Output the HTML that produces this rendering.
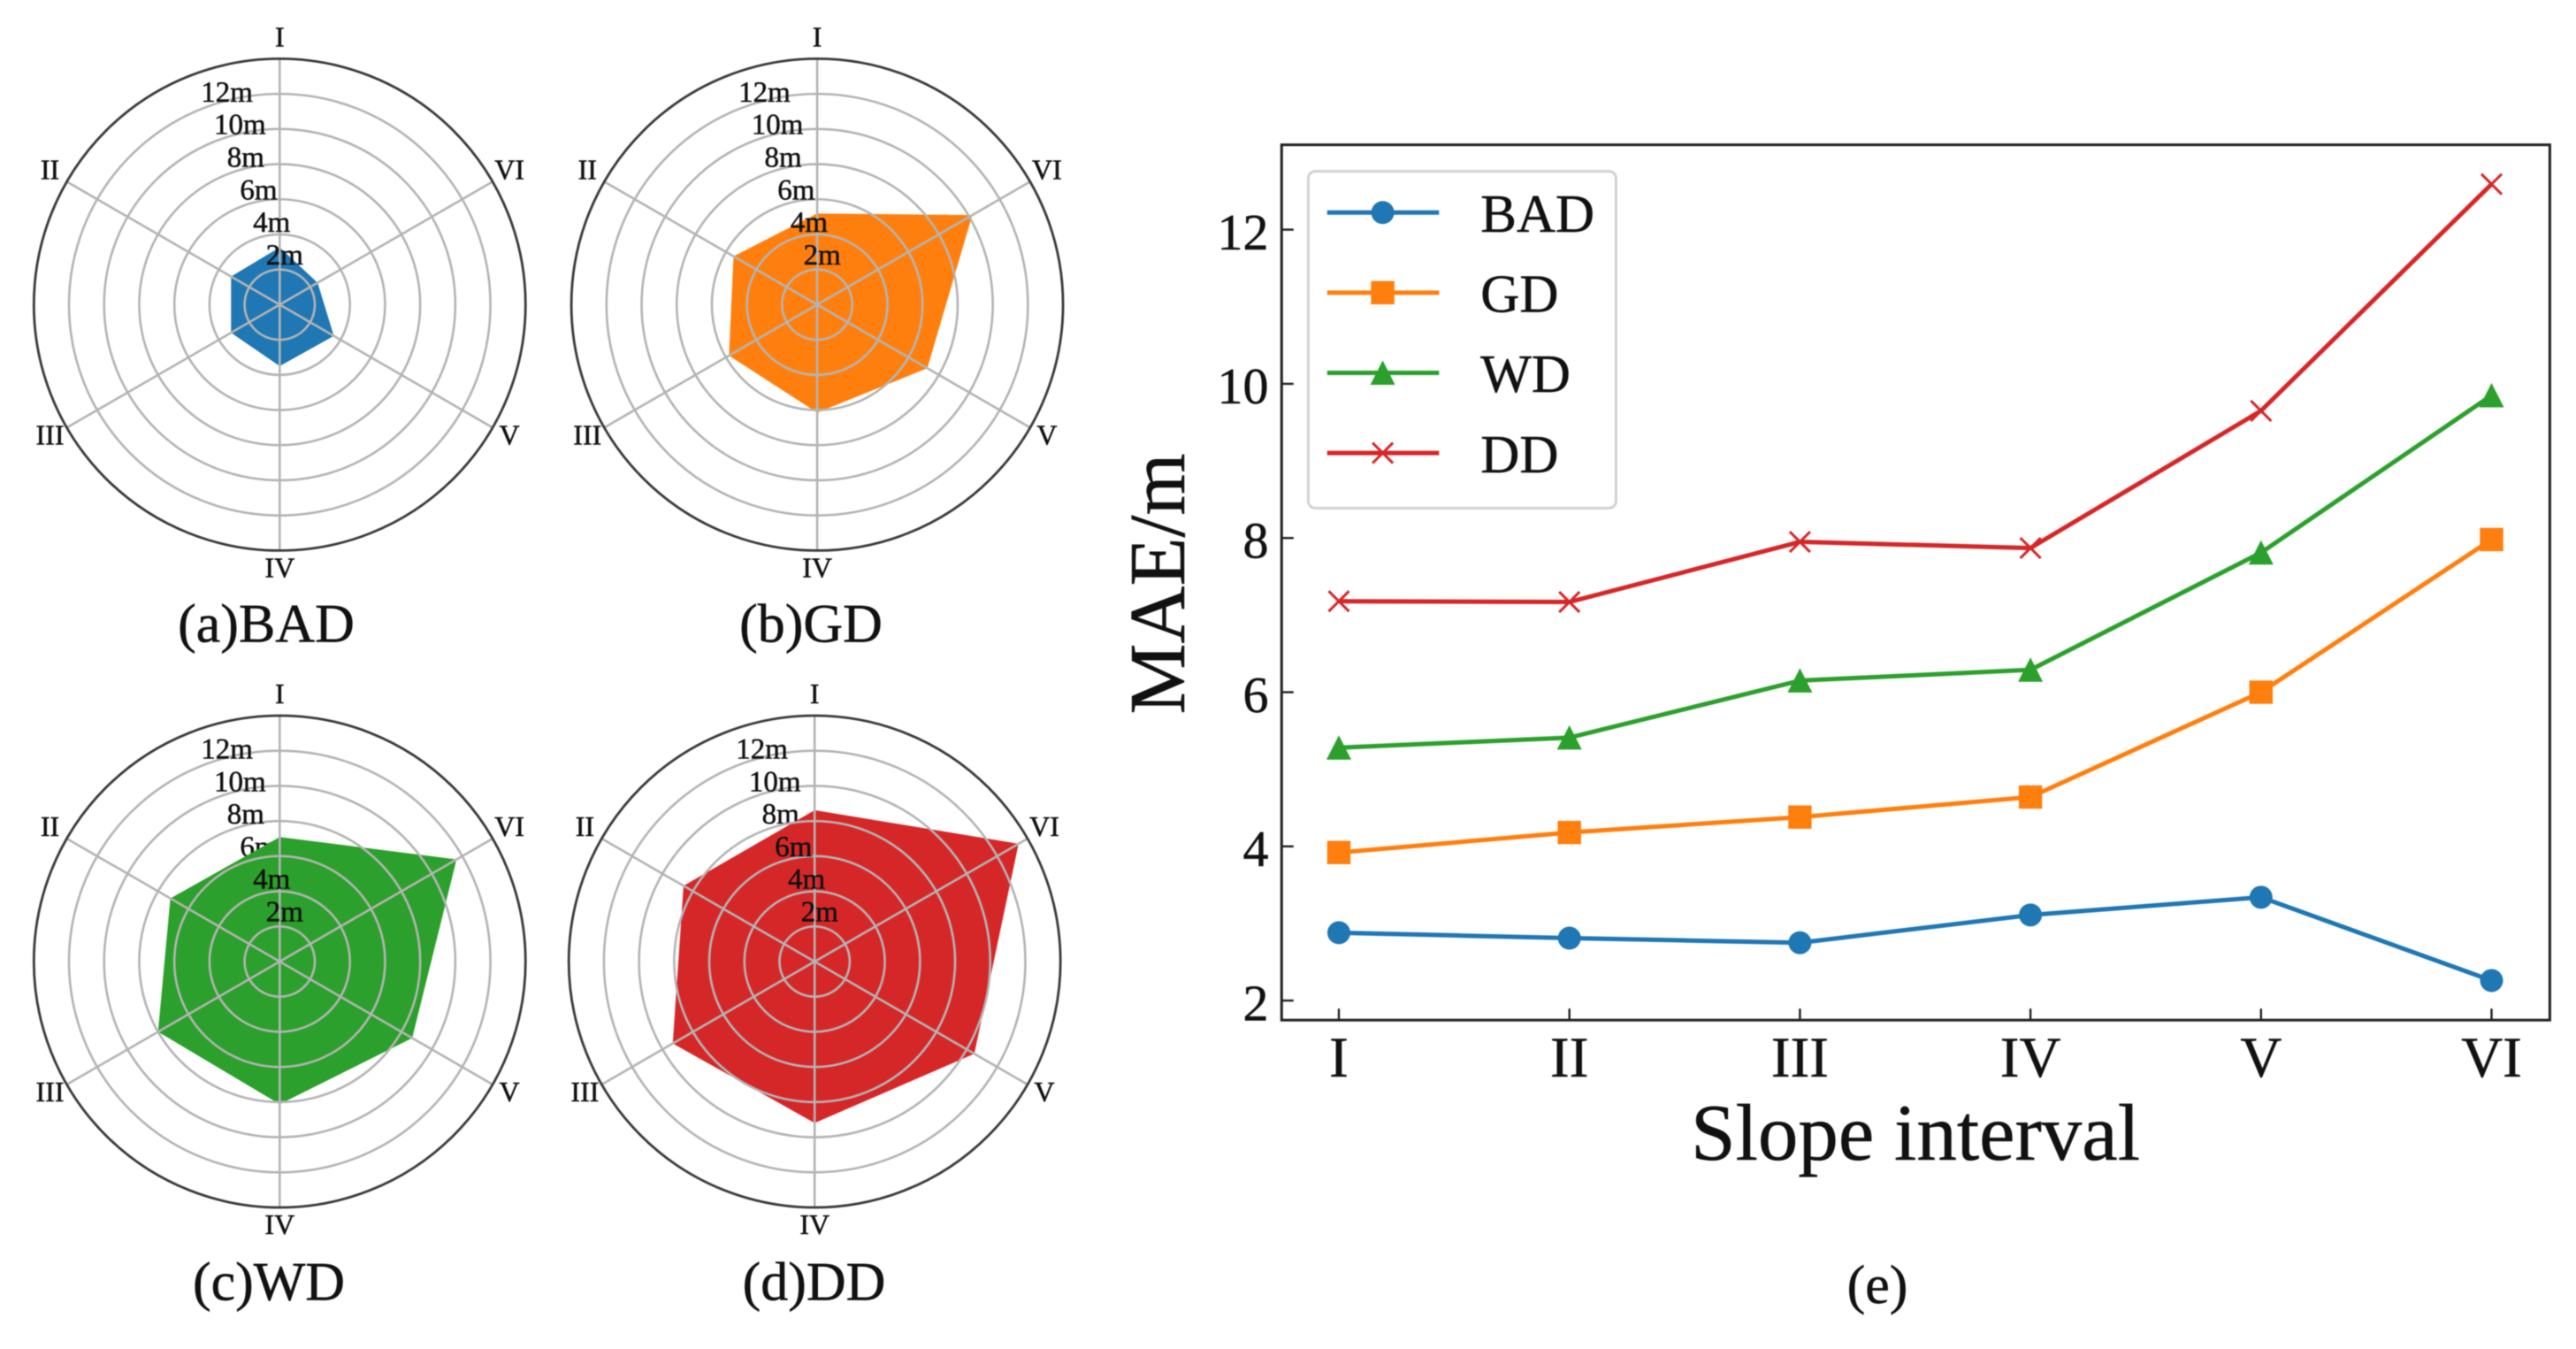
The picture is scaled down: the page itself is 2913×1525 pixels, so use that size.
<!DOCTYPE html>
<html lang="en">
<head>
<meta charset="utf-8">
<title>MAE by slope interval</title>
<style>
  html, body { margin: 0; padding: 0; background: #fff; width: 2913px; height: 1525px; overflow: hidden; }
  svg { display: block; filter: blur(0.6px); }
  text { font-family: "Liberation Serif", "DejaVu Serif", serif; fill: #111; stroke: #111; stroke-width: 0.5px; text-rendering: geometricPrecision; }
</style>
</head>
<body>
<svg id="figure" xmlns="http://www.w3.org/2000/svg" width="2913" height="1525" viewBox="0 0 2913 1525">
  <rect width="2913" height="1525" fill="#ffffff"/>
  <g id="radar-a"></g>
  <g id="radar-b"></g>
  <g id="radar-c"></g>
  <g id="radar-d"></g>
  <g id="line-chart"></g>
  <text x="2166" y="1311" font-size="91" text-anchor="middle">Slope interval</text>
  <text transform="translate(1339,660) rotate(-90)" font-size="90" text-anchor="middle">MAE/m</text>
  <text x="2123" y="1473" font-size="62" text-anchor="middle">(e)</text>
</svg>
<script>
const categories = ['I', 'II', 'III', 'IV', 'V', 'VI'];
const seriesNames = ['BAD', 'GD', 'WD', 'DD'];
const seriesColors = ['#1f77b4', '#ff7f0e', '#2ca02c', '#d62728'];
const seriesMarkers = ['circle', 'square', 'triangle', 'x'];

const badValues = [2.88, 2.81, 2.75, 3.11, 3.34, 2.26];
const gdValues = [3.92, 4.18, 4.38, 4.64, 6.0, 7.98];
const wdValues = [5.28, 5.41, 6.15, 6.29, 7.81, 9.85];
const ddValues = [7.18, 7.17, 7.95, 7.87, 9.65, 12.59];
const yTicks = [2, 4, 6, 8, 10, 12];

const badRadar = [3.26, 3.2, 3.2, 3.5, 3.56, 2.49];
const gdRadar = [5.19, 5.5, 5.8, 6.15, 7.24, 10.2];
const wdRadar = [7.09, 7.19, 8.0, 8.12, 8.71, 11.63];
const ddRadar = [8.62, 8.62, 9.33, 9.19, 10.5, 13.41];
const radarTicks = [2, 4, 6, 8, 10, 12];
const radarMax = 14;
const captions = ['(a)BAD', '(b)GD', '(c)WD', '(d)DD'];

const NS = 'http://www.w3.org/2000/svg';

function make(tag, attrs, parent) {
  const el = document.createElementNS(NS, tag);
  for (const key in attrs) el.setAttribute(key, attrs[key]);
  parent.appendChild(el);
  return el;
}

/* ---------- radar panels ---------- */
const RADAR_R = 278;

function radarPoint(cx, cy, value, index) {
  const angle = (90 + index * 60) * Math.PI / 180;
  const r = value / radarMax * RADAR_R;
  return [cx + r * Math.cos(angle), cy - r * Math.sin(angle)];
}

function drawRadar(id, key, cx, cy, values, color, coveredTick, caption, capX, capY) {
  const g = document.getElementById(id);

  function tickLabel(tick) {
    const el = make('text', {
      x: cx - 0.8 - tick * 7.35,
      y: cy - tick * 18.4 - 18.2 + 9.5,
      'font-size': 33,
      'text-anchor': 'start'
    }, g);
    
    
    el.textContent = tick + 'm';
  }

  radarTicks.filter(t => t === coveredTick).forEach(tickLabel);

  const poly = make('polygon', {
    points: values.map((v, i) => radarPoint(cx, cy, v, i).join(',')).join(' '),
    fill: color,
    stroke: 'none'
  }, g);
  
  

  radarTicks.forEach(function (tick) {
    const ring = make('circle', {
      cx: cx, cy: cy, r: tick / radarMax * RADAR_R,
      fill: 'none', stroke: '#b4b4b4', 'stroke-width': 2.6
    }, g);
    
    
  });

  categories.forEach(function (cat, i) {
    const end = radarPoint(cx, cy, radarMax, i);
    const spoke = make('line', {
      x1: cx, y1: cy, x2: end[0], y2: end[1],
      stroke: '#b4b4b4', 'stroke-width': 2.6
    }, g);
    
    

    const lp = radarPoint(cx, cy, radarMax * 300 / RADAR_R, i);
    const label = make('text', {
      x: lp[0], y: lp[1] + 8, 'font-size': 32, 'text-anchor': 'middle'
    }, g);
    
    
    label.textContent = cat;
  });

  const outer = make('circle', {
    cx: cx, cy: cy, r: RADAR_R, fill: 'none', stroke: '#3a3a3a', 'stroke-width': 2.8
  }, g);
  
  

  radarTicks.filter(t => t !== coveredTick).forEach(tickLabel);

  const cap = make('text', { x: capX, y: capY, 'font-size': 62, 'text-anchor': 'middle' }, g);
  
  
  cap.textContent = caption;
}

drawRadar('radar-a', 'bad', 316.3, 344.4, badRadar, seriesColors[0], null, captions[0], 301, 725.5);
drawRadar('radar-b', 'gd', 924.1, 344.4, gdRadar, seriesColors[1], null, captions[1], 917, 725.5);
drawRadar('radar-c', 'wd', 316.3, 1087, wdRadar, seriesColors[2], 6, captions[2], 304, 1469.5);
drawRadar('radar-d', 'dd', 921.2, 1087, ddRadar, seriesColors[3], 8, captions[3], 920.5, 1469.5);

/* ---------- line chart ---------- */
const chart = document.getElementById('line-chart');
const plotLeft = 1449.3, plotRight = 2883.4, plotTop = 163.7, plotBottom = 1153.2;

function xScale(index) { return 1514 + index * 260.7; }
function yScale(value) { return 1131.1 - (value - 2) * 87.15; }

function drawMarker(kind, x, y, color, parent, name) {
  let el;
  if (kind === 'circle') {
    el = make('circle', { cx: x, cy: y, r: 13, fill: color }, parent);
  } else if (kind === 'square') {
    el = make('rect', { x: x - 13.2, y: y - 13.2, width: 26.4, height: 26.4, fill: color }, parent);
  } else if (kind === 'triangle') {
    el = make('polygon', {
      points: [x, y - 14, x + 14, y + 13.5, x - 14, y + 13.5].join(','),
      fill: color
    }, parent);
  } else {
    const d = 11.5;
    el = make('path', {
      d: 'M' + (x - d) + ' ' + (y - d) + 'L' + (x + d) + ' ' + (y + d) +
         'M' + (x - d) + ' ' + (y + d) + 'L' + (x + d) + ' ' + (y - d),
      fill: 'none', stroke: color, 'stroke-width': 3
    }, parent);
  }
  
  
}

yTicks.forEach(function (tick) {
  const y = yScale(tick);
  const mark = make('line', {
    x1: plotLeft, y1: y, x2: plotLeft + 13.5, y2: y, stroke: '#222', 'stroke-width': 2.4
  }, chart);
  
  

  const label = make('text', {
    x: 1434.5, y: y + 22.3, 'font-size': 58, 'text-anchor': 'end'
  }, chart);
  
  
  label.textContent = tick;
});

categories.forEach(function (cat, i) {
  const x = xScale(i);
  const mark = make('line', {
    x1: x, y1: plotBottom, x2: x, y2: plotBottom - 13, stroke: '#222', 'stroke-width': 2.4
  }, chart);
  
  

  const label = make('text', {
    x: x, y: 1217, 'font-size': 65, 'text-anchor': 'middle'
  }, chart);
  
  
  label.textContent = cat;
});

const lineSeries = [badValues, gdValues, wdValues, ddValues];
lineSeries.forEach(function (values, s) {
  const key = seriesNames[s].toLowerCase();
  const line = make('polyline', {
    points: values.map((v, i) => xScale(i) + ',' + yScale(v)).join(' '),
    fill: 'none', stroke: seriesColors[s], 'stroke-width': 5, 'stroke-linejoin': 'round'
  }, chart);
  
  
  values.forEach(function (v, i) {
    drawMarker(seriesMarkers[s], xScale(i), yScale(v), seriesColors[s], chart, key + '-point-' + categories[i]);
  });
});

const frame = make('rect', {
  x: plotLeft, y: plotTop, width: plotRight - plotLeft, height: plotBottom - plotTop,
  fill: 'none', stroke: '#222', 'stroke-width': 3
}, chart);



/* ---------- legend ---------- */
const legendBox = make('rect', {
  x: 1479.4, y: 193.6, width: 348, height: 380.8, rx: 8, ry: 8,
  fill: '#ffffff', stroke: '#d2d2d2', 'stroke-width': 3
}, chart);



seriesNames.forEach(function (name, s) {
  const key = name.toLowerCase();
  const y = 240.3 + s * 90.6;
  const sample = make('line', {
    x1: 1500.8, y1: y, x2: 1627.3, y2: y, stroke: seriesColors[s], 'stroke-width': 5
  }, chart);
  
  

  drawMarker(seriesMarkers[s], 1563.6, y, seriesColors[s], chart, 'legend-marker-' + key);

  const label = make('text', {
    x: 1674.3, y: y + 21.7, 'font-size': 61, 'text-anchor': 'start'
  }, chart);
  
  
  label.textContent = name;
});
</script>
</body>
</html>
